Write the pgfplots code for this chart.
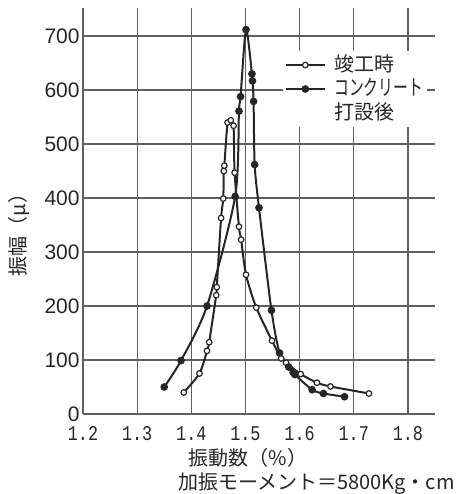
\documentclass[border=0pt]{standalone}
\usepackage{fontspec}
\usepackage{pgfplots}
\pgfplotsset{compat=1.18}
\setmainfont{Noto Sans CJK JP}
\newfontfamily\lsans{Liberation Sans}
\newfontfamily\lmono{Liberation Mono}
\definecolor{ink}{HTML}{262626}
\definecolor{gridc}{HTML}{606060}
\begin{document}
\begin{tikzpicture}
\useasboundingbox (-41.5pt,-40pt) rectangle (187.5pt,207pt);
\begin{axis}[
  scale only axis, width=176pt, height=203pt,
  xmin=1.2, xmax=1.85, ymin=0, ymax=752,
  xtick={1.2,1.3,1.4,1.5,1.6,1.7,1.8},
  ytick={0,100,200,300,400,500,600,700},
  axis x line*=bottom, axis y line*=left,
  axis line style={-, gridc, line width=0.8pt},
  major tick length=0pt,
  grid=major,
  major grid style={gridc, line width=0.65pt},
  xticklabel style={anchor=north, inner sep=0pt, yshift=-6pt, font=\lmono\fontsize{10.5}{12}\selectfont, text=ink},
  xticklabels={\scalebox{0.8}[1]{1.2},\scalebox{0.8}[1]{1.3},\scalebox{0.8}[1]{1.4},\scalebox{0.8}[1]{1.5},\scalebox{0.8}[1]{1.6},\scalebox{0.8}[1]{1.7},\scalebox{0.8}[1]{1.8}},
  yticklabel style={anchor=east, inner sep=0pt, xshift=-1.5pt, font=\lsans\fontsize{10.5}{12}\selectfont, text=ink},
  /pgf/number format/assume math mode=true,
  legend style={at={(rel axis cs:0.568,0.895)}, anchor=north west, draw=none, fill=white,
    inner sep=1pt, row sep=0pt, font=\fontsize{10}{12}\selectfont, text=ink,
    nodes={inner xsep=1pt, inner ysep=0.5pt, text height=8.5pt, text depth=2.5pt},
    /tikz/every odd column/.append style={column sep=3.5pt}},
  legend cell align=left,
  legend image code/.code={\draw[mark repeat=2, mark phase=2, #1] plot coordinates {(0pt,0pt) (9.5pt,0pt) (19pt,0pt)};},
]
\addplot[ink, line width=1pt, smooth, tension=0.45, mark=*, mark size=1.4pt,
  mark options={fill=white, draw=ink, line width=0.6pt}] coordinates {
(1.386,40) (1.415,75) (1.429,117) (1.433,133) (1.446,220) (1.447,235)
(1.455,363) (1.459,399) (1.460,450) (1.461,460) (1.467,540) (1.473,544)
(1.478,534) (1.480,447) (1.488,347) (1.492,323) (1.501,258) (1.520,197)
(1.549,136) (1.566,103) (1.575,95) (1.602,74) (1.632,58) (1.657,51) (1.728,38)
};
\addlegendentry{竣工時}
\addplot[ink, line width=1pt, smooth, tension=0.45, mark=*, mark size=1.4pt,
  mark options={fill=ink, draw=ink}] coordinates {
(1.350,50) (1.381,99) (1.429,200) (1.481,403) (1.488,561) (1.491,588)
(1.501,712) (1.512,630) (1.513,617) (1.515,579) (1.517,462) (1.525,382)
(1.548,192) (1.563,113) (1.580,87) (1.588,77) (1.591,73) (1.623,45)
(1.644,38) (1.683,32)
};
\addlegendentry{\scalebox{0.74}[1.08]{コンクリート}}
\addlegendimage{empty legend}
\addlegendentry{打設後}
\end{axis}
\node[rotate=90, text=ink, font=\fontsize{10}{12}\selectfont] at (-32pt,92pt) {振幅（μ）};
\node[text=ink, font=\fontsize{10}{12}\selectfont] at (82.5pt,-22pt) {振動数（\%）};
\node[anchor=east, text=ink, font=\fontsize{10}{12}\selectfont, inner sep=0pt] at (186pt,-35pt) {加振モーメント＝5800Kg・cm};
\end{tikzpicture}
\end{document}
